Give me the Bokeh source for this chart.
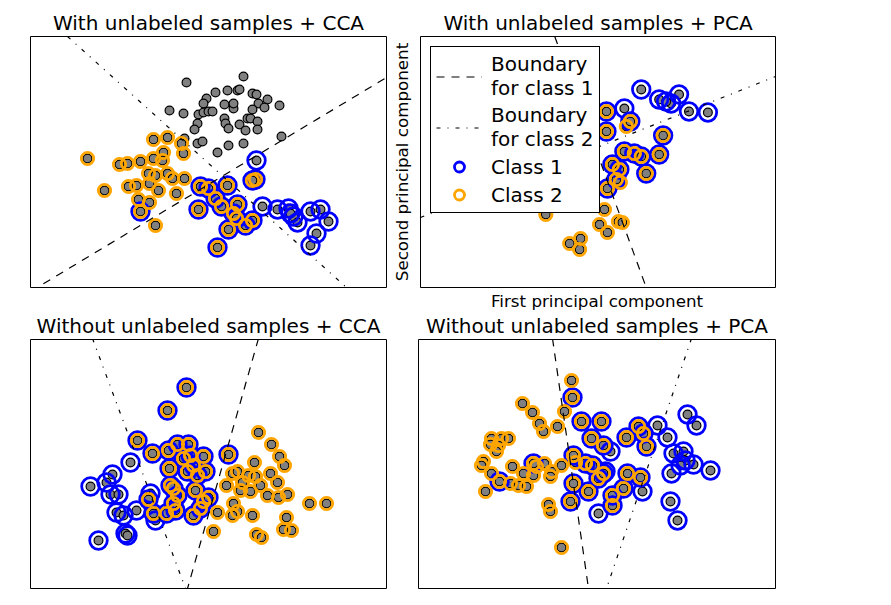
from bokeh.plotting import figure
from bokeh.models import Range1d, Legend, LegendItem, Title, FixedTicker
from bokeh.layouts import column, row
from bokeh.embed import file_html
from bokeh.resources import INLINE

FONT = "DejaVu Sans"

# ---------------- data ----------------
# Top-left: With unlabeled samples + CCA
tl_gray_x = [156, 176, 173, 139, 153, 168, 173, 167, 164, 154, 167, 172, 178, 213, 185, 197, 207, 209, 222, 226,
             237, 249, 194, 203, 203, 228, 234, 222, 182, 194, 195, 198, 209, 217, 220, 227, 227, 215, 251, 213, 198, 187]
tl_gray_y = [205, 189, 184, 177, 174, 173, 175, 164, 158, 149, 144, 146, 176, 211, 195, 197, 197, 198, 194, 193,
             188, 182, 183, 179, 184, 184, 180, 178, 176, 169, 164, 159, 163, 169, 169, 166, 158, 157, 151, 144, 142, 135]
tl_c2_x = [57, 74, 89, 97, 110, 123, 137, 151, 153, 133, 123, 132, 118, 125, 137, 142, 154, 119, 98, 106, 128, 146, 108, 119, 125]
tl_c2_y = [129, 97, 123, 124, 126, 148, 150, 144, 134, 135, 129, 127, 114, 112, 114, 109, 109, 104, 101, 102, 97, 94, 88, 85, 62]
tl_both_x = [110, 170, 168, 178, 197, 225, 222, 185, 191, 207, 203, 206, 198, 215, 222, 187]
tl_both_y = [76, 101, 78, 99, 102, 108, 107, 89, 81, 83, 74, 69, 58, 62, 67, 40]
tl_c1_x = [226, 232, 247, 258, 263, 267, 280, 290, 298, 286, 280, 260]
tl_c1_y = [127, 81, 78, 79, 71, 65, 76, 78, 66, 54, 42, 74]
tl_b1_x, tl_b1_y = [0, 356], [-4, 210]
tl_b2_x, tl_b2_y = [37, 316], [251, 0]

# Top-right: With unlabeled samples + PCA
tr_gray_x, tr_gray_y = [], []
tr_c2_x = [126, 180, 188, 150, 161, 160, 185, 199, 201, 203, 207]
tr_c2_y = [73, 63, 55, 44, 49, 38, 78, 66, 105, 65, 161]
tr_both_x = [187, 187, 193, 188, 197, 244, 240, 227, 205, 215, 222, 200, 211]
tr_both_y = [176, 156, 123, 99, 108, 152, 133, 114, 136, 134, 131, 118, 166]
tr_c1_x = [222, 240, 260, 252, 247, 270, 289, 205]
tr_c1_y = [198, 188, 193, 184, 186, 176, 175, 179]
tr_b1_x, tr_b1_y = [135, 227], [251, 0]
tr_b2_x, tr_b2_y = [0, 357], [70, 211]

# Bottom-left: Without unlabeled samples + CCA
bl_gray_x, bl_gray_y = [], []
bl_c1_x = [60, 68, 100, 82, 76, 80, 88, 86, 93, 95, 97, 106, 125, 120]
bl_c1_y = [102, 48, 126, 114, 106, 94, 94, 76, 73, 55, 53, 78, 68, 95]
bl_both_x = [156, 137, 107, 122, 118, 123, 136, 145, 139, 138, 147, 158, 160, 153, 163, 157, 173, 175, 167, 143,
             140, 147, 143, 165, 173, 163, 170, 198, 178]
bl_both_y = [201, 178, 148, 135, 89, 75, 75, 78, 120, 138, 144, 144, 133, 130, 123, 117, 132, 117, 113, 100,
             103, 93, 85, 98, 87, 73, 80, 134, 91]
bl_c2_x = [228, 241, 249, 254, 224, 202, 207, 196, 212, 218, 225, 240, 247, 230, 220, 210, 237, 248, 257, 203,
           207, 202, 187, 222, 256, 279, 296, 253, 261, 183, 226, 231]
bl_c2_y = [156, 144, 132, 123, 126, 115, 117, 103, 106, 113, 112, 115, 106, 103, 97, 98, 93, 91, 94, 85,
           77, 73, 76, 73, 71, 85, 85, 59, 58, 57, 54, 51]
bl_b1_x, bl_b1_y = [228, 157], [250, 0]
bl_b2_x, bl_b2_y = [62, 155], [250, 0]

# Bottom-right: Without unlabeled samples + PCA
br_gray_x, br_gray_y = [], []
br_c2_x = [153, 146, 139, 104, 114, 121, 125, 73, 83, 90, 72, 80, 78, 65, 63, 73, 67, 94, 92, 100,
           108, 105, 115, 118, 126, 133, 132, 143, 130, 132, 143, 157]
br_c2_y = [208, 177, 162, 185, 176, 165, 157, 150, 150, 150, 144, 143, 137, 127, 123, 115, 97, 122, 105, 103,
           102, 115, 113, 122, 125, 117, 112, 123, 84, 77, 41, 126]
br_both_x = [154, 81, 115, 163, 173, 185, 155, 167, 155, 170, 152, 180, 183, 208, 220, 225, 228, 209, 222, 205,
             194, 194, 185, 174]
br_both_y = [191, 107, 125, 167, 150, 143, 133, 125, 105, 97, 87, 110, 167, 151, 162, 155, 142, 115, 111, 100,
             93, 83, 115, 123]
br_c1_x = [180, 187, 239, 249, 269, 278, 192, 255, 265, 267, 275, 262, 292, 253, 252, 259, 224]
br_c1_y = [75, 117, 163, 151, 174, 163, 137, 135, 137, 128, 124, 123, 118, 115, 87, 68, 97]
br_b1_x, br_b1_y = [134, 170], [250, 0]
br_b2_x, br_b2_y = [273, 188], [250, 0]

titles = ["With unlabeled samples + CCA", "With unlabeled samples + PCA",
          "Without unlabeled samples + CCA", "Without unlabeled samples + PCA"]
legend_labels = ["Boundary\nfor class 1", "Boundary\nfor class 2", "Class 1", "Class 2"]
x_label = "First principal component"
y_label = "Second principal component"


def style_axis(ax, label, standoff):
    ax.ticker = FixedTicker(ticks=[])
    ax.major_tick_in = 0
    ax.major_tick_out = 0
    ax.minor_tick_in = 0
    ax.minor_tick_out = 0
    ax.major_label_standoff = 0
    ax.major_label_text_font_size = "0px"
    ax.axis_line_color = None
    ax.axis_label = label
    ax.axis_label_standoff = standoff
    ax.axis_label_text_font = FONT
    ax.axis_label_text_font_size = "16.7px"
    ax.axis_label_text_font_style = "normal"
    ax.axis_label_text_color = "black"


def panel(W, H, bl, br, bt, bb, title, gx, gy, c1x, c1y, c2x, c2y, bx, by, l1x, l1y, l2x, l2y,
          title_standoff, yaxis=False):
    p = figure(width=bl + W + br, height=bt + H + bb,
               x_range=Range1d(0, W), y_range=Range1d(0, H),
               output_backend="svg", toolbar_location=None,
               x_axis_location=None,
               y_axis_location="left" if yaxis else None,
               title_location=None,
               min_border_left=bl, min_border_right=br, min_border_top=bt, min_border_bottom=bb)
    p.grid.visible = False
    p.outline_line_color = "black"
    p.outline_line_width = 1
    p.background_fill_color = "white"
    p.border_fill_color = "white"
    if yaxis:
        style_axis(p.yaxis[0], y_label, 9)
    ax = gx + c1x + c2x + bx
    ay = gy + c1y + c2y + by
    p.scatter(ax, ay, size=8.8, marker="circle", fill_color="#808080", line_color="black", line_width=1.2)
    r1 = p.scatter(c1x + bx, c1y + by, size=17.6, marker="circle", fill_color=None,
                   line_color="blue", line_width=2.78)
    r2 = p.scatter(c2x + bx, c2y + by, size=12.4, marker="circle", fill_color=None,
                   line_color="orange", line_width=2.78)
    d1 = p.line(l1x, l1y, line_color="black", line_width=1.2, line_dash="8 7")
    d2 = p.line(l2x, l2y, line_color="black", line_width=1.2, line_dash="4 7 1 7")
    p.add_layout(Title(text=title, align="center", text_font=FONT, text_font_size="20px",
                       text_font_style="normal", text_color="black", standoff=title_standoff), "above")
    return p, (d1, d2, r1, r2)


tl, _ = panel(356, 251, 30, 2, 36, 1, titles[0], tl_gray_x, tl_gray_y, tl_c1_x, tl_c1_y,
              tl_c2_x, tl_c2_y, tl_both_x, tl_both_y, tl_b1_x, tl_b1_y, tl_b2_x, tl_b2_y, 3)
tr, rs = panel(357, 251, 30, 8, 36, 1, titles[1], tr_gray_x, tr_gray_y, tr_c1_x, tr_c1_y,
               tr_c2_x, tr_c2_y, tr_both_x, tr_both_y, tr_b1_x, tr_b1_y, tr_b2_x, tr_b2_y, 3, yaxis=True)
bl, _ = panel(356, 249, 30, 2, 51, 8, titles[2], bl_gray_x, bl_gray_y, bl_c1_x, bl_c1_y,
              bl_c2_x, bl_c2_y, bl_both_x, bl_both_y, bl_b1_x, bl_b1_y, bl_b2_x, bl_b2_y, 4)
br, _ = panel(357, 249, 30, 8, 51, 8, titles[3], br_gray_x, br_gray_y, br_c1_x, br_c1_y,
              br_c2_x, br_c2_y, br_both_x, br_both_y, br_b1_x, br_b1_y, br_b2_x, br_b2_y, 4)

# x label of the top-right panel (the two right panels share the same horizontal extent)
br.add_layout(Title(text=x_label, align="center", text_font=FONT, text_font_size="16.7px",
                    text_font_style="normal", text_color="black", standoff=-2), "above")

legend = Legend(items=[LegendItem(label=lab, renderers=[r]) for lab, r in zip(legend_labels, rs)],
                location="top_left", margin=10, padding=5, spacing=3,
                glyph_width=46, glyph_height=25, label_standoff=9,
                label_text_font=FONT, label_text_font_size="20px", label_text_color="black",
                border_line_color="black", border_line_width=1, border_line_alpha=1.0,
                background_fill_color="white", background_fill_alpha=1.0)
tr.add_layout(legend)

layout = column(row(tl, tr), row(bl, br))
open("out.html", "w").write(file_html(layout, INLINE))
